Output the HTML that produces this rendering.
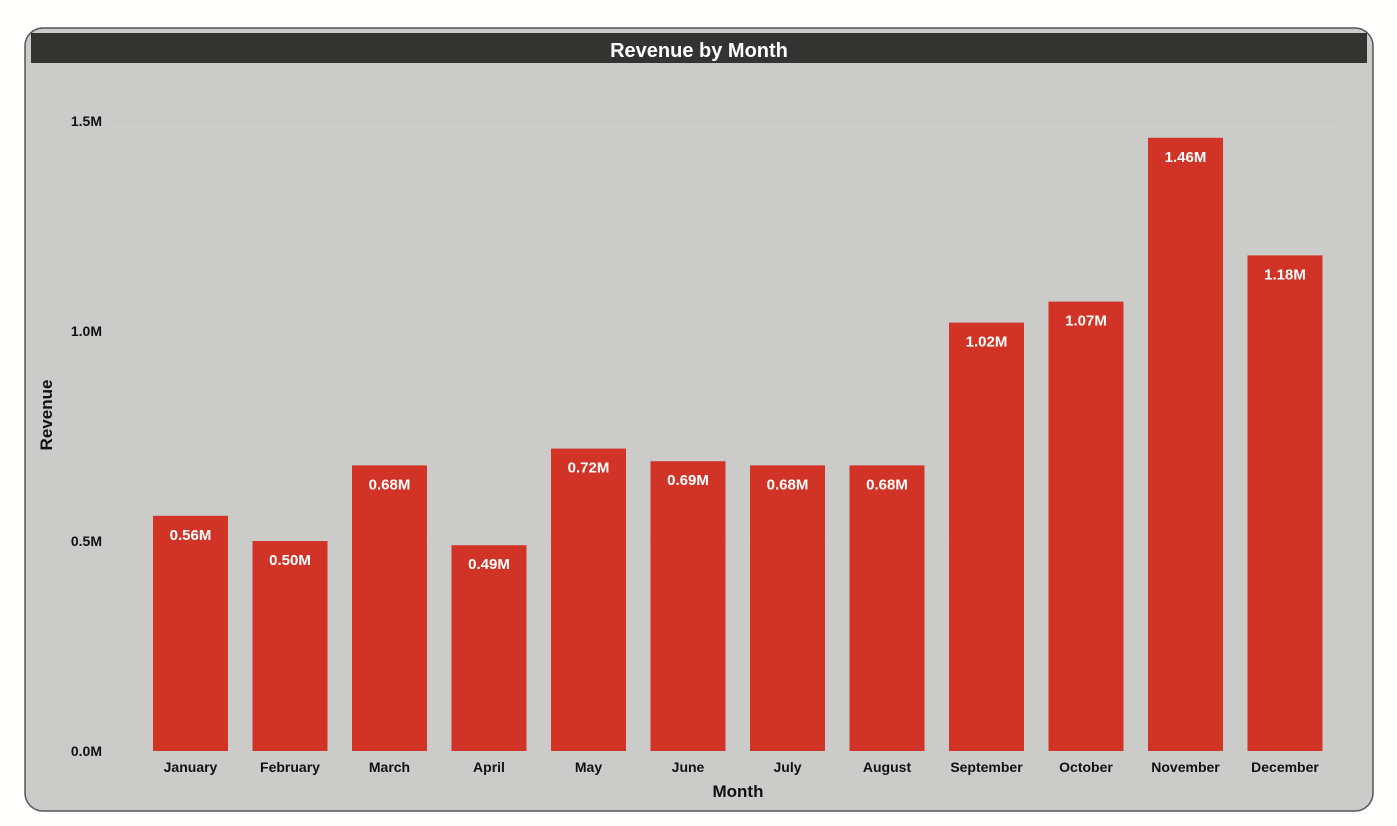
<!DOCTYPE html>
<html><head><meta charset="utf-8"><style>
html,body{margin:0;padding:0;background:#fffffd;width:1397px;height:826px;overflow:hidden;font-family:"Liberation Sans",Arial,sans-serif}
</style></head><body>
<svg id="chart" width="1397" height="826" xmlns="http://www.w3.org/2000/svg">
<rect x="25" y="28" width="1348" height="783" rx="18" ry="18" fill="#cbcbca" stroke="#555" stroke-width="1.5"/>
<rect x="31" y="33" width="1336" height="30" fill="#333332"/>
<text x="699" y="57" text-anchor="middle" font-size="20" font-weight="bold" fill="#fff">Revenue by Month</text>
<g id="grid"></g>
<g id="bars"></g>
<text transform="translate(52,415) rotate(-90)" text-anchor="middle" font-size="17" font-weight="bold" fill="#111">Revenue</text>
<text x="738" y="797" text-anchor="middle" font-size="17" font-weight="bold" fill="#111">Month</text>
</svg>
<script>
const categories=["January","February","March","April","May","June","July","August","September","October","November","December"];
const revenue=[0.56,0.50,0.68,0.49,0.72,0.69,0.68,0.68,1.02,1.07,1.46,1.18];
const valueLabels=["0.56M","0.50M","0.68M","0.49M","0.72M","0.69M","0.68M","0.68M","1.02M","1.07M","1.46M","1.18M"];
const yTicks=[0,0.5,1.0,1.5];
const yTickLabels=["0.0M","0.5M","1.0M","1.5M"];
const NS="http://www.w3.org/2000/svg";
const y0=751,pxPerUnit=420,x0=190.5,step=99.5,bw=75;
function yScale(v){return y0-v*pxPerUnit;}
function xScale(i){return x0+i*step;}
function mk(t,a,p){const e=document.createElementNS(NS,t);for(const k in a)e.setAttribute(k,a[k]);p.appendChild(e);return e;}
const grid=document.getElementById('grid'),bars=document.getElementById('bars');
yTicks.forEach((v,i)=>{
  const y=yScale(v);
  if(v>0){const l=mk('line',{x1:110,x2:1340,y1:y,y2:y,stroke:'#b8b8b8','stroke-dasharray':'1 3'},grid);
  
  }
  const t=mk('text',{x:102,y:y+5,'text-anchor':'end','font-size':14,'font-weight':'bold',fill:'#111'},grid);
  t.textContent=yTickLabels[i];
  
  
});
categories.forEach((c,i)=>{
  const cx=xScale(i),top=yScale(revenue[i]);
  const r=mk('rect',{x:cx-bw/2,y:top,width:bw,height:y0-top,fill:'#d13426'},bars);
  
  
  const v=mk('text',{x:cx,y:top+24,'text-anchor':'middle','font-size':15,'font-weight':'bold',fill:'#fff'},bars);
  v.textContent=valueLabels[i];
  
  
  const t=mk('text',{x:cx,y:772,'text-anchor':'middle','font-size':14,'font-weight':'bold',fill:'#111'},bars);
  t.textContent=c;
  
  
});
</script>
</body></html>
